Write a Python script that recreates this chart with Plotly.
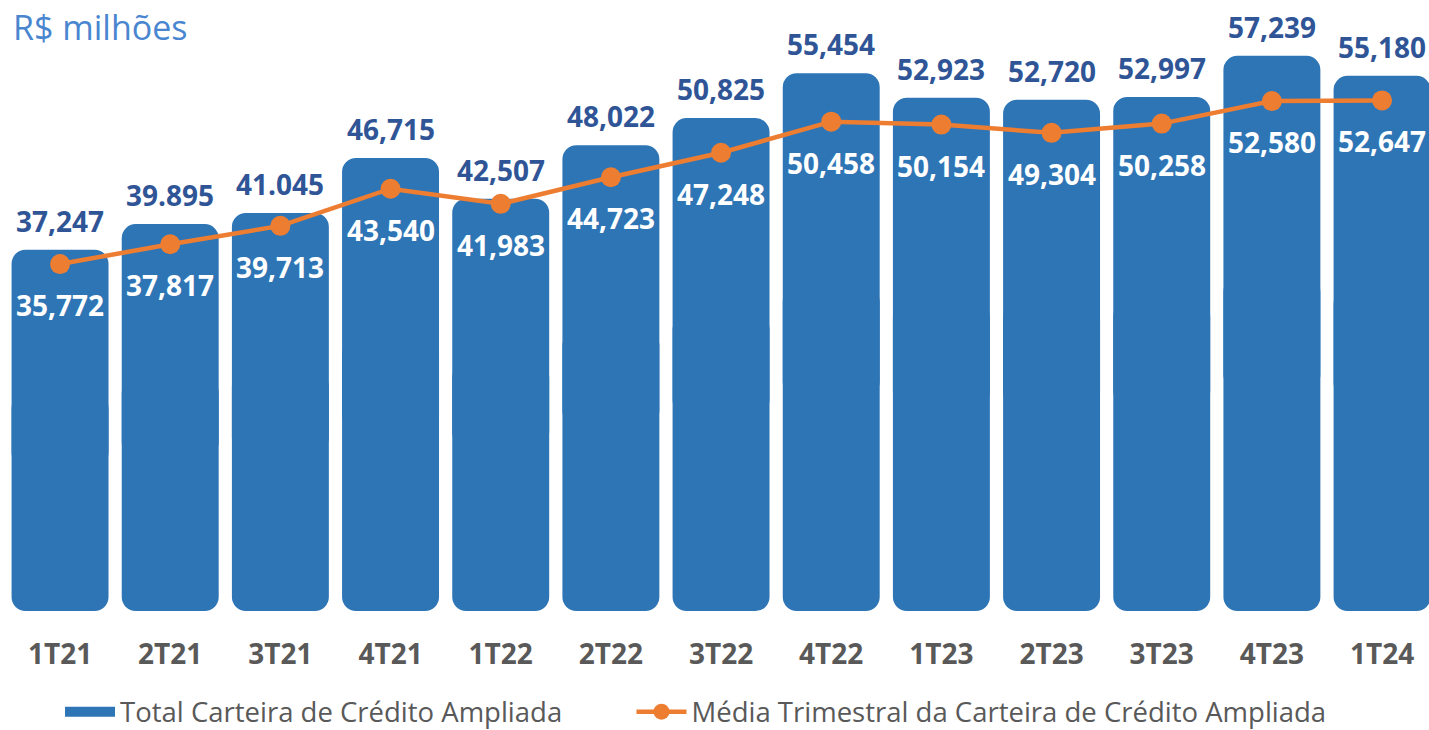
import plotly.graph_objects as go

# ── data ─────────────────────────────────────────────────────────────
quarters = ["1T21", "2T21", "3T21", "4T21", "1T22", "2T22", "3T22",
            "4T22", "1T23", "2T23", "3T23", "4T23", "1T24"]
total_carteira = [37247, 39895, 41045, 46715, 42507, 48022, 50825,
                  55454, 52923, 52720, 52997, 57239, 55180]
total_labels = ["37,247", "39.895", "41.045", "46,715", "42,507", "48,022", "50,825",
                "55,454", "52,923", "52,720", "52,997", "57,239", "55,180"]
media_trimestral = [35772, 37817, 39713, 43540, 41983, 44723, 47248,
                    50458, 50154, 49304, 50258, 52580, 52647]

BAR_COLOR = "#2E75B6"
LINE_COLOR = "#ED7D31"
LABEL_BLUE = "#2F5597"
GREY = "#595959"
FONT = "Open Sans"

fig = go.Figure()

# bars are drawn in two overlapping pieces so both ends get rounded corners
fig.add_trace(go.Bar(
    x=quarters,
    y=[v * 0.6 for v in total_carteira],
    base=[v * 0.4 for v in total_carteira],
    marker=dict(color=BAR_COLOR, line=dict(width=0), cornerradius=14, opacity=1),
    showlegend=False,
    hoverinfo="skip",
))
fig.add_trace(go.Bar(
    x=quarters,
    y=[-v * 0.6 for v in total_carteira],
    base=[v * 0.6 for v in total_carteira],
    marker=dict(color=BAR_COLOR, line=dict(width=0), cornerradius=14, opacity=1),
    showlegend=False,
    hoverinfo="skip",
))
# legend swatch for the bars (wide flat rectangle)
fig.add_trace(go.Scatter(
    x=[None], y=[None], mode="lines",
    line=dict(color=BAR_COLOR, width=12),
    name="Total Carteira de Crédito Ampliada" + "\u00a0" * 9,
))

# ── average line ─────────────────────────────────────────────────────
fig.add_trace(go.Scatter(
    x=quarters,
    y=media_trimestral,
    mode="lines+markers",
    line=dict(color=LINE_COLOR, width=4.5),
    marker=dict(color=LINE_COLOR, size=20),
    name="Média Trimestral da Carteira de Crédito Ampliada",
))

annotations = []
for q, v, lab in zip(quarters, total_carteira, total_labels):
    annotations.append(dict(
        x=q, y=v, text=f"<b>{lab}</b>", showarrow=False,
        yanchor="middle", yshift=29,
        font=dict(family=FONT, size=28, color=LABEL_BLUE),
    ))
for q, v in zip(quarters, media_trimestral):
    annotations.append(dict(
        x=q, y=v, text=f"<b>{v:,}</b>", showarrow=False,
        yanchor="middle", yshift=-41,
        font=dict(family=FONT, size=28, color="white"),
    ))
annotations.append(dict(
    xref="paper", yref="paper", x=0.008, y=1.0, xanchor="left", yanchor="middle",
    yshift=-27,
    text="R$ milhões", showarrow=False,
    font=dict(family=FONT, size=34, color="#4A86D0"),
))

fig.update_layout(
    width=1429, height=730,
    barmode="overlay",
    bargap=0.12,
    plot_bgcolor="white",
    paper_bgcolor="white",
    margin=dict(l=0, r=0, t=0, b=119, autoexpand=False),
    annotations=annotations,
    showlegend=True,
    legend=dict(
        orientation="h", xref="container", yref="paper",
        x=0.042, y=-0.165, xanchor="left", yanchor="middle",
        font=dict(family=FONT, size=27.5, color=GREY),
        itemwidth=50,
    ),
    xaxis=dict(
        range=[-0.545, 12.426],
        showgrid=False, zeroline=False, showline=False,
        tickfont=dict(family=FONT, size=28, color=GREY, weight="bold"),
        ticklabelstandoff=24,
        fixedrange=True,
    ),
    yaxis=dict(
        range=[0, 63000], visible=False, fixedrange=True,
    ),
)

fig.write_html("out.html", config={"displayModeBar": False},
               post_script="document.body.style.margin='0';")
